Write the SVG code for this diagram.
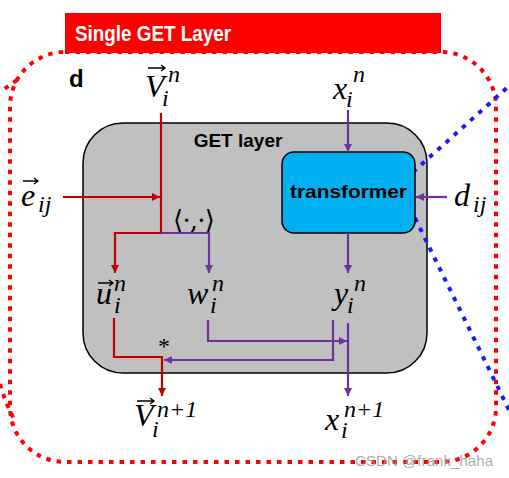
<svg xmlns="http://www.w3.org/2000/svg" width="509" height="478" viewBox="0 0 509 478">
<style>
.dotr{fill:none;stroke:#ff0000;stroke-width:4;stroke-dasharray:4.5 6}
.dotb{fill:none;stroke:#1a1aff;stroke-width:4;stroke-dasharray:4.5 6.5}
.lr{fill:none;stroke:#c00000;stroke-width:2.2}
.lp{fill:none;stroke:#7030a0;stroke-width:2.2}
.m{font-family:"Liberation Serif",serif;font-style:italic;font-size:32px;fill:#000}
.s{font-size:24px}
.b{font-family:"Liberation Sans",Arial,sans-serif;font-weight:bold;fill:#000}
.va{fill:none;stroke:#000;stroke-width:1.3}
</style>
<defs>
<marker id="ar" viewBox="0 0 10 10" refX="10" refY="5" markerWidth="8" markerHeight="8" markerUnits="userSpaceOnUse" orient="auto"><path d="M0,0 L10,5 L0,10 z" fill="#c00000"/></marker>
<marker id="ap" viewBox="0 0 10 10" refX="10" refY="5" markerWidth="8" markerHeight="8" markerUnits="userSpaceOnUse" orient="auto"><path d="M0,0 L10,5 L0,10 z" fill="#7030a0"/></marker>
</defs>
<rect width="509" height="478" fill="#fff"/>
<g id="frame">
<rect class="dotr" x="10" y="52" width="486" height="410" rx="55"/>
<path class="dotr" d="M17,80 L0,92"/>
<path class="dotr" d="M0,384 Q5,402 14,419"/>
</g>
<g id="banner">
<rect x="65" y="13" width="376" height="40" fill="#ff0000"/>
<text x="75" y="41" font-family="Liberation Sans,Arial,sans-serif" font-weight="bold" font-size="22" fill="#fff" textLength="156" lengthAdjust="spacingAndGlyphs">Single GET Layer</text>
</g>
<text class="b" x="69" y="87" font-size="24">d</text>
<g id="get-layer">
<rect x="83" y="123" width="344" height="250" rx="40" fill="#c0c0c0" stroke="#000" stroke-width="1.5"/>
<text class="b" x="238" y="147" font-size="19" text-anchor="middle">GET layer</text>
</g>
<g id="zoom-lines">
<path class="dotb" d="M413,172 L509,86"/>
<path class="dotb" d="M415,218 L509,410"/>
</g>
<g id="transformer">
<rect x="282" y="152" width="133" height="81" rx="12" fill="#00b0f0" stroke="#000" stroke-width="1.5"/>
<text class="b" x="348.5" y="198" font-size="19" text-anchor="middle" textLength="117" lengthAdjust="spacingAndGlyphs">transformer</text>
</g>
<g id="connectors">
<path class="lr" d="M161,113 V233"/>
<path class="lr" d="M63,197 H160" marker-end="url(#ar)"/>
<path class="lr" d="M161,233 H115 V273" marker-end="url(#ar)"/>
<path class="lp" d="M161,233 H209 V273" marker-end="url(#ap)"/>
<path class="lp" d="M348,110 V152" marker-end="url(#ap)"/>
<path class="lp" d="M447,197 H416" marker-end="url(#ap)"/>
<path class="lp" d="M348,233 V273" marker-end="url(#ap)"/>
<path class="lr" d="M114,318 V357 H162 V396" marker-end="url(#ar)"/>
<path class="lp" d="M208,320 V341 H347" marker-end="url(#ap)"/>
<path class="lp" d="M333,320 V360 H164" marker-end="url(#ap)"/>
<path class="lp" d="M348,323 V396" marker-end="url(#ap)"/>
</g>
<g id="label-Vin">
<text class="m" x="145" y="97">V<tspan class="s" x="168" y="82">n</tspan><tspan class="s" x="162" y="106">i</tspan></text>
<path class="va" d="M148,68 H165 M161,65 L165,68 L161,71"/>
</g>
<g id="label-xin">
<text class="m" x="333" y="99">x<tspan class="s" x="353" y="82">n</tspan><tspan class="s" x="346" y="107">i</tspan></text>
</g>
<g id="label-eij">
<text class="m" x="21" y="206">e<tspan class="s" x="38" y="212">ij</tspan></text>
<path class="va" d="M23,181 H38 M34,178 L38,181 L34,184"/>
</g>
<g id="label-dij">
<text class="m" x="454" y="206">d<tspan class="s" x="473" y="212">ij</tspan></text>
</g>
<text x="194" y="229" font-family="DejaVu Serif,serif" font-size="26" text-anchor="middle" textLength="42">⟨·,·⟩</text>
<g id="label-uin">
<text class="m" x="96" y="304">u<tspan class="s" x="114" y="291">n</tspan><tspan class="s" x="114" y="313">i</tspan></text>
<path class="va" d="M98,283 H113 M109,280 L113,283 L109,286"/>
</g>
<g id="label-win">
<text class="m" x="187" y="304">w<tspan class="s" x="212" y="291">n</tspan><tspan class="s" x="210" y="313">i</tspan></text>
</g>
<g id="label-yin">
<text class="m" x="334" y="304">y<tspan class="s" x="354" y="291">n</tspan><tspan class="s" x="347" y="313">i</tspan></text>
</g>
<text x="158" y="354" font-family="Liberation Serif,serif" font-size="24">*</text>
<g id="label-Vin1">
<text class="m" x="134" y="426">V<tspan class="s" x="157" y="417">n+1</tspan><tspan class="s" x="152" y="437">i</tspan></text>
<path class="va" d="M137,401 H154 M150,398 L154,401 L150,404"/>
</g>
<g id="label-xin1">
<text class="m" x="325" y="430">x<tspan class="s" x="344" y="417">n+1</tspan><tspan class="s" x="341" y="438">i</tspan></text>
</g>
<text x="355" y="466" font-family="Liberation Sans,Arial,sans-serif" font-size="15" fill="#9a9a9a" fill-opacity="0.85" textLength="138">CSDN @frank_haha</text>
</svg>
